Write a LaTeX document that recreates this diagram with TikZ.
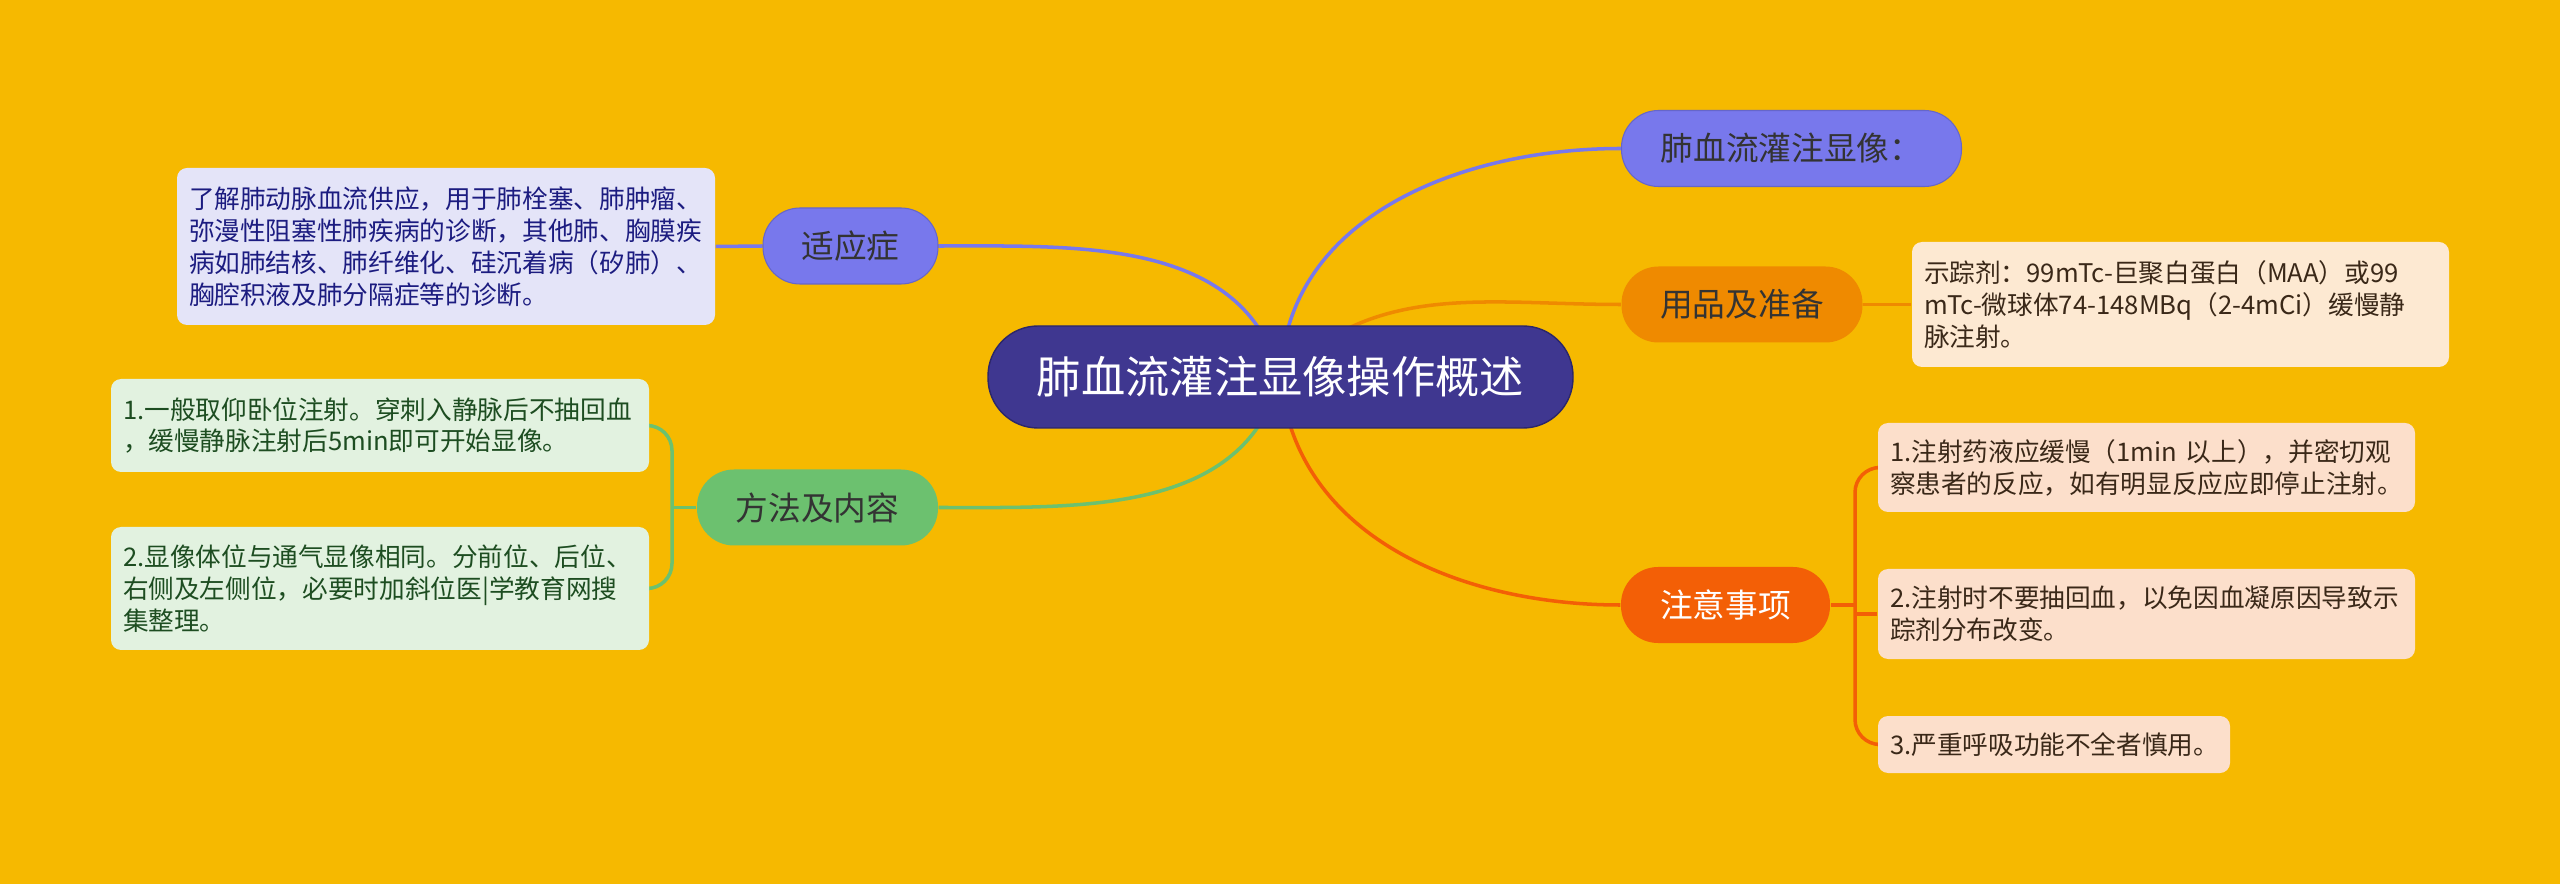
\documentclass[tikz,border=0pt]{standalone}
\usepackage{fontspec}
\setmainfont{Noto Sans CJK SC}
\usetikzlibrary{positioning, backgrounds}

\definecolor{bgyellow}{HTML}{F6B900}
\definecolor{rootblue}{HTML}{3F3790}
\definecolor{rootedge}{HTML}{2C276A}
\definecolor{lilac}{HTML}{7878EC}
\definecolor{lilacleaf}{HTML}{E4E4F8}
\definecolor{lilactext}{HTML}{1C1C80}
\definecolor{amber}{HTML}{EF8A00}
\definecolor{amberleaf}{HTML}{FDE9D2}
\definecolor{tomato}{HTML}{F35F06}
\definecolor{tomatoleaf}{HTML}{FCDFCB}
\definecolor{brownish}{HTML}{3A2818}
\definecolor{leafgreen}{HTML}{6CC16F}
\definecolor{greenleaf}{HTML}{E2F2E0}
\definecolor{greentext}{HTML}{1D4D21}

\begin{document}
\begin{tikzpicture}[
        root/.style={rectangle, rounded corners=0.5cm, fill=rootblue, draw=rootedge, line width=0.4pt, minimum width=5.85cm, minimum height=1.02cm, text=white, font=\fontsize{12.6}{15}\selectfont},
        branch/.style={rectangle, rounded corners=0.37cm, minimum height=0.76cm, inner sep=0pt, font=\fontsize{9.3}{11}\selectfont},
        leaf/.style={rectangle, rounded corners=0.1cm, align=left, inner xsep=0.12cm, inner ysep=0pt, text width=#1, font=\fontsize{7.3}{9.1}\selectfont},
        link/.style={line width=1pt}
    ]
        % centre
        \node at (12.805,-3.77) [root] (root) {肺血流灌注显像操作概述};

        % right side
        \node at (17.915,-1.485) [branch, fill=lilac, draw=lilac!85!black, line width=0.3pt, minimum width=3.40cm, text=black!80] (hx) {肺血流灌注显像：};

        \node at (17.42,-3.045) [branch, fill=amber, minimum width=2.41cm, text=black!80] (yp) {用品及准备};
        \node at (21.805,-3.045) [leaf=5.13cm, fill=amberleaf, minimum height=1.25cm, text=brownish] (yp_l) {示踪剂：99mTc-巨聚白蛋白（MAA）或99\\mTc-微球体74-148MBq（2-4mCi）缓慢静\\脉注射。};

        \node at (17.255,-6.05) [branch, fill=tomato, minimum width=2.09cm, text=white] (zy) {注意事项};
        \node at (21.465,-4.675) [leaf=5.13cm, fill=tomatoleaf, minimum height=0.89cm, text=brownish] (zy_1) {1.注射药液应缓慢（1min 以上），并密切观\\察患者的反应，如有明显反应应即停止注射。};
        \node at (21.465,-6.14) [leaf=5.13cm, fill=tomatoleaf, minimum height=0.90cm, text=brownish] (zy_2) {2.注射时不要抽回血，以免因血凝原因导致示\\踪剂分布改变。};
        \node at (20.54,-7.445) [leaf=3.28cm, fill=tomatoleaf, minimum height=0.57cm, text=brownish] (zy_3) {3.严重呼吸功能不全者慎用。};
        \coordinate (zy_fork) at (18.55,-6.05);

        % left side
        \node at (8.505,-2.46) [branch, fill=lilac, draw=lilac!85!black, line width=0.3pt, minimum width=1.75cm, text=black!80] (syz) {适应症};
        \node at (4.46,-2.465) [leaf=5.14cm, fill=lilacleaf, minimum height=1.57cm, text=lilactext] (syz_l) {了解肺动脉血流供应，用于肺栓塞、肺肿瘤、\\弥漫性阻塞性肺疾病的诊断，其他肺、胸膜疾\\病如肺结核、肺纤维化、硅沉着病（矽肺）、\\胸腔积液及肺分隔症等的诊断。};

        \node at (8.175,-5.075) [branch, fill=leafgreen, minimum width=2.41cm, text=black!80] (fn) {方法及内容};
        \node at (3.80,-4.255) [leaf=5.14cm, fill=greenleaf, minimum height=0.93cm, text=greentext] (fn_1) {1.一般取仰卧位注射。穿刺入静脉后不抽回血\\，缓慢静脉注射后5min即可开始显像。};
        \node at (3.80,-5.885) [leaf=5.14cm, fill=greenleaf, minimum height=1.23cm, text=greentext] (fn_2) {2.显像体位与通气显像相同。分前位、后位、\\右侧及左侧位，必要时加斜位医|学教育网搜\\集整理。};
        \coordinate (fn_fork) at (6.72,-5.075);

        \begin{scope}[on background layer]
            \fill[bgyellow] (0,0) rectangle (25.6,-8.84);

            \draw[link, lilac]      (root.center) to[out=88,in=180]   (hx.west);
            \draw[link, amber]      (root.center) to[out=45,in=180]   (yp.west);
            \draw[link, tomato]     (root.center) to[out=-85,in=180]  (zy.west);
            \draw[link, lilac]      (root.center) to[out=105,in=0]    (syz.east);
            \draw[link, leafgreen]  (root.center) to[out=-105,in=0]   (fn.east);

            \draw[link, amber]  (yp.east) -- (yp_l.west);
            \draw[link, lilac]  (syz.west) -- (syz_l.east);

            \draw[link, tomato] (zy.east) -- (zy_fork);
            \draw[link, tomato, rounded corners=0.25cm] (zy_1.west) -| (zy_fork) |- (zy_3.west);
            \draw[link, tomato] (zy_fork |- zy_2.west) -- (zy_2.west);

            \draw[link, leafgreen] (fn.west) -- (fn_fork);
            \draw[link, leafgreen, rounded corners=0.25cm] (fn_1.east) -| (fn_fork) |- (fn_2.east);
        \end{scope}
    \end{tikzpicture}
\end{document}
